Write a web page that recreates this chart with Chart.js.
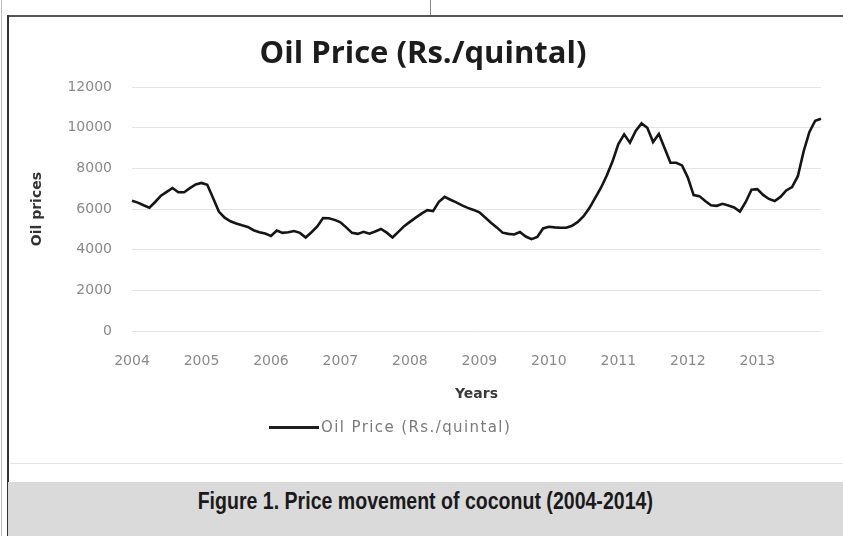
<!DOCTYPE html>
<html>
<head>
<meta charset="utf-8">
<script src="https://cdn.jsdelivr.net/npm/chart.js@4.4.1/dist/chart.umd.min.js"></script>
<style>
  html, body { margin: 0; padding: 0; background: #fff; }
  #page { position: relative; width: 843px; height: 536px; overflow: hidden; background: #fff; }
  #chart { position: absolute; left: 0; top: 0; }
  .rule { position: absolute; }
  #legend { position: absolute; left: 269px; top: 417px; height: 20px; display: flex; align-items: center;
            font-family: "DejaVu Sans", sans-serif; font-size: 15px; color: #7a7a7a; letter-spacing: 1.4px; }
  #legend .swatch { width: 50px; height: 3px; background: #1e1e1e; margin-right: 2px; }
  #caption { position: absolute; left: 8px; right: 0; top: 482px; height: 54px; background: #dadada; }
  #caption p { margin: 0; position: absolute; left: 0; right: 0; top: 6px; text-align: center;
               font-family: "Liberation Sans", Arial, sans-serif; font-weight: bold;
               font-size: 23px; color: #1a1a1a; transform: scaleX(0.85); transform-origin: 416px 0; }
</style>
</head>
<body>
<div id="page">
  <div class="rule" style="left:8px; top:15px; width:835px; height:2px; background:#555;"></div>
  <div class="rule" style="left:430px; top:0; width:1px; height:15px; background:#888;"></div>
  <div class="rule" style="left:7px; top:15px; width:2px; height:521px; background:#333;"></div>
  <div class="rule" style="left:1px; top:0; width:1px; height:536px; background:#bbb;"></div>
  <div class="rule" style="left:10px; top:463px; width:833px; height:1px; background:#e6e6e6;"></div>
  <canvas id="chart" width="843" height="536"></canvas>
  <div id="legend"><span class="swatch"></span><span>Oil Price (Rs./quintal)</span></div>
  <div id="caption"><p>Figure 1. Price movement of coconut (2004-2014)</p></div>
</div>
<script>
// Años y meses del eje X (una observación mensual)
const years = [2004, 2005, 2006, 2007, 2008, 2009, 2010, 2011, 2012, 2013];
const months = ["Jan", "Feb", "Mar", "Apr", "May", "Jun", "Jul", "Aug", "Sep", "Oct", "Nov", "Dec"];

// Marcas del eje Y
const yTicks = [0, 2000, 4000, 6000, 8000, 10000, 12000];

// Precio del aceite (Rs./quintal), un valor por mes
const oilPrice = [
    6410, 6320, 6190, 6070, 6350, 6660, 6850, 7040, 6830, 6830, 7030, 7210, // 2004
    7290, 7200, 6550, 5880, 5580, 5400, 5290, 5200, 5120, 4960, 4860, 4800, // 2005
    4680, 4950, 4830, 4860, 4920, 4830, 4600, 4860, 5150, 5560, 5550, 5470, // 2006
    5350, 5100, 4830, 4780, 4880, 4790, 4900, 5020, 4840, 4600, 4880, 5160, // 2007
    5370, 5580, 5780, 5950, 5900, 6360, 6600, 6460, 6330, 6180, 6060, 5960, // 2008
    5840, 5590, 5330, 5100, 4840, 4780, 4750, 4870, 4650, 4520, 4630, 5050, // 2009
    5130, 5100, 5080, 5080, 5180, 5370, 5650, 6050, 6550, 7050, 7650, 8350, // 2010
    9200, 9680, 9270, 9850, 10220, 10000, 9300, 9700, 9000, 8280, 8280, 8150, // 2011
    7550, 6690, 6640, 6400, 6190, 6160, 6260, 6180, 6080, 5880, 6350, 6950, // 2012
    6980, 6700, 6500, 6400, 6600, 6920, 7080, 7620, 8840, 9800, 10350, 10450 // 2013
];

const labels = years.flatMap(y => months.map(m => m + " " + y));
const tickFont = { family: "DejaVu Sans", size: 14 };
const titleFont = { family: "DejaVu Sans", size: 14, weight: "bold" };

new Chart(document.getElementById("chart"), {
    type: "line",
    data: {
        labels: labels,
        datasets: [{
            label: "Oil Price (Rs./quintal)",
            data: oilPrice,
            borderColor: "#151515",
            borderWidth: 2.6,
            pointRadius: 0,
            tension: 0,
            fill: false
        }]
    },
    options: {
        responsive: false,
        animation: false,
        layout: { padding: { left: 25, top: 0, right: 22, bottom: 129 } },
        plugins: {
            legend: { display: false },
            tooltip: { enabled: false },
            title: {
                display: true,
                text: "Oil Price (Rs./quintal)",
                color: "#1c1c1c",
                font: { family: "Open Sans", size: 31, weight: "bold" },
                padding: { top: 36, bottom: 14 }
            }
        },
        scales: {
            x: {
                type: "category",
                grid: { display: false },
                border: { display: false },
                ticks: {
                    autoSkip: false,
                    maxRotation: 0,
                    minRotation: 0,
                    padding: 14,
                    color: "#8a8a8a",
                    font: tickFont,
                    callback: function (value) {
                        const l = this.getLabelForValue(value);
                        return l.startsWith("Jan") ? l.slice(4) : "";
                    }
                },
                title: { display: true, text: "Years", color: "#3a3a3a", font: titleFont, padding: { top: 4, bottom: 4 } },
                afterFit: s => { s.height = 76; }
            },
            y: {
                min: yTicks[0],
                max: yTicks[yTicks.length - 1],
                afterBuildTicks: s => { s.ticks = yTicks.map(v => ({ value: v })); },
                grid: { color: "#e4e4e4", drawTicks: false },
                border: { display: false },
                ticks: { padding: 20, color: "#8a8a8a", font: tickFont, callback: v => String(v) },
                title: { display: true, text: "Oil prices", color: "#333", font: titleFont, padding: { top: 4, bottom: 4 } },
                afterFit: s => { s.width = 107; }
            }
        }
    }
});
</script>
</body>
</html>
